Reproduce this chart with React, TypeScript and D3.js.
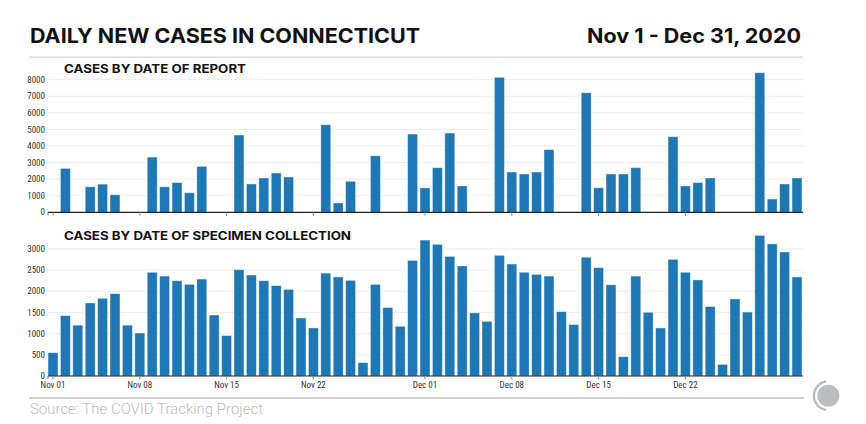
import React from "react";
import * as d3 from "d3";

const W = 866;
const H = 424;

const dayStart = new Date(2020, 10, 1);
const dayEnd = new Date(2021, 0, 1);
const dates: Date[] = d3.timeDay.range(dayStart, dayEnd);

const reportCases: (number | null)[] = [
  null, 2650, null, 1540, 1700, 1060, null, null, 3330, 1540,
  1790, 1180, 2770, null, null, 4660, 1710, 2070, 2370, 2130,
  null, null, 5280, 560, 1870, null, 3410, null, null, 4720,
  1470, 2690, 4780, 1590, null, null, 8140, 2430, 2310, 2430,
  3780, null, null, 7210, 1480, 2310, 2310, 2690, null, null,
  4560, 1590, 1790, 2070, null, null, null, 8420, 800, 1710,
  2070,
];

const specimenCases: number[] = [
  550, 1425, 1200, 1725, 1835, 1945, 1200, 1015, 2450, 2360,
  2250, 2165, 2290, 1440, 955, 2510, 2385, 2250, 2135, 2045,
  1370, 1135, 2430, 2340, 2260, 315, 2165, 1615, 1175, 2730,
  3210, 3110, 2825, 2600, 1490, 1290, 2850, 2645, 2450, 2400,
  2360, 1520, 1215, 2805, 2560, 2155, 455, 2360, 1505, 1135,
  2755, 2450, 2270, 1640, 275, 1820, 1510, 3320, 3120, 2930,
  2340,
];

const xTickLabels: string[] = ["Nov 01", "Nov 08", "Nov 15", "Nov 22", "Dec 01", "Dec 08", "Dec 15", "Dec 22"];
const reportTicks: number[] = [0, 1000, 2000, 3000, 4000, 5000, 6000, 7000, 8000];
const specimenTicks: number[] = [0, 500, 1000, 1500, 2000, 2500, 3000];

const title = "DAILY NEW CASES IN CONNECTICUT";
const dateRange = "Nov 1 - Dec 31, 2020";
const subtitleTop = "CASES BY DATE OF REPORT";
const subtitleBottom = "CASES BY DATE OF SPECIMEN COLLECTION";
const source = "Source: The COVID Tracking Project";

const fmt = d3.timeFormat("%b %d");
const keys = dates.map((d) => fmt(d));

const x = d3
  .scaleBand<string>()
  .domain(keys)
  .range([46.8, 803.2])
  .paddingInner(0.2)
  .paddingOuter(0.1);

const yTop = d3.scaleLinear().domain([0, 8000]).range([212.3, 79.7]);
const yBot = d3.scaleLinear().domain([0, 3000]).range([376, 249]);

const BAR = "#1f77b4";
const tickFont = "'Liberation Sans Narrow', 'Roboto Condensed', Roboto, sans-serif";
const headFont = "Inter, 'Liberation Sans', Arial, sans-serif";
const srcFont = "Roboto, 'Liberation Sans', Arial, sans-serif";

function Panel(props: {
  values: (number | null)[];
  y: d3.ScaleLinear<number, number>;
  ticks: number[];
  showLabels: boolean;
}) {
  const { values, y, ticks, showLabels } = props;
  const base = y(0);
  const x0 = 48;
  const x1 = 803;
  return (
    <g>
      {ticks.map((t) => (
        <g key={"g" + t}>
          {t > 0 && (
            <line x1={x0} x2={x1} y1={y(t)} y2={y(t)} stroke="#ececec" strokeWidth={1} />
          )}
          <text
            x={45}
            y={y(t)}
            dy="0.35em"
            textAnchor="end"
            fontSize={9}
            fill="#333"
            fontFamily={tickFont}
          >
            {t}
          </text>
        </g>
      ))}
      {values.map((v, i) =>
        v == null ? null : (
          <rect
            key={"b" + i}
            x={x(keys[i])!}
            y={y(v)}
            width={x.bandwidth()}
            height={base - y(v)}
            fill={BAR}
            stroke="#ffffff"
            strokeOpacity={0.45}
            strokeWidth={0.8}
          />
        )
      )}
      <line x1={x0} x2={x1} y1={base} y2={base} stroke="#222" strokeWidth={1.2} />
      <line x1={x0} x2={x0} y1={base} y2={base + 3} stroke="#666" strokeWidth={1} />
      {xTickLabels.map((lab) => {
        const cx = x(lab)! + x.bandwidth() / 2;
        return (
          <g key={"t" + lab}>
            <line x1={cx} x2={cx} y1={base} y2={base + 3.5} stroke="#888" strokeWidth={1} />
            {showLabels && (
              <text
                x={cx}
                y={base + 12}
                textAnchor="middle"
                fontSize={9}
                fill="#333"
                fontFamily={tickFont}
              >
                {lab}
              </text>
            )}
          </g>
        );
      })}
    </g>
  );
}

export default function App() {
  const logoCx = 828.3;
  const logoCy = 395.7;
  const arc = d3
    .arc()
    .innerRadius(13.2)
    .outerRadius(15.6)
    .startAngle(-Math.PI * 0.05)
    .endAngle(-Math.PI * 0.95);
  return (
    <svg
      width={W}
      height={H}
      style={{ position: "absolute", left: 0, top: 0, background: "#fff" }}
    >
      <rect width={W} height={H} fill="#fff" />
      <text
        x={30}
        y={43}
        fontSize={20}
        fontWeight={700}
        fill="#111"
        fontFamily={headFont}
        textLength={390}
        lengthAdjust="spacingAndGlyphs"
      >
        {title}
      </text>
      <text
        x={801}
        y={43}
        fontSize={20}
        fontWeight={700}
        fill="#111"
        textAnchor="end"
        fontFamily={headFont}
        textLength={214}
        lengthAdjust="spacingAndGlyphs"
      >
        {dateRange}
      </text>
      <line x1={29} x2={803} y1={57.3} y2={57.3} stroke="#dedede" strokeWidth={1.5} />
      <text
        x={64}
        y={73}
        fontSize={11.5}
        fontWeight={700}
        fill="#111"
        fontFamily={headFont}
        textLength={182}
        lengthAdjust="spacingAndGlyphs"
      >
        {subtitleTop}
      </text>
      <Panel values={reportCases} y={yTop} ticks={reportTicks} showLabels={false} />
      <text
        x={64}
        y={239.5}
        fontSize={11.5}
        fontWeight={700}
        fill="#111"
        fontFamily={headFont}
        textLength={287}
        lengthAdjust="spacingAndGlyphs"
      >
        {subtitleBottom}
      </text>
      <Panel values={specimenCases} y={yBot} ticks={specimenTicks} showLabels={true} />
      <line x1={29} x2={804} y1={398} y2={398} stroke="#cfcfcf" strokeWidth={2} />
      <text
        x={30}
        y={414}
        fontSize={14}
        fontWeight={300}
        fill="#bdbdbd"
        fontFamily={srcFont}
        textLength={233}
        lengthAdjust="spacingAndGlyphs"
      >
        {source}
      </text>
      <circle cx={logoCx} cy={logoCy} r={11} fill="#b9bdc2" />
      <path d={arc({} as any) || ""} transform={`translate(${logoCx},${logoCy})`} fill="#b9bdc2" />
    </svg>
  );
}
